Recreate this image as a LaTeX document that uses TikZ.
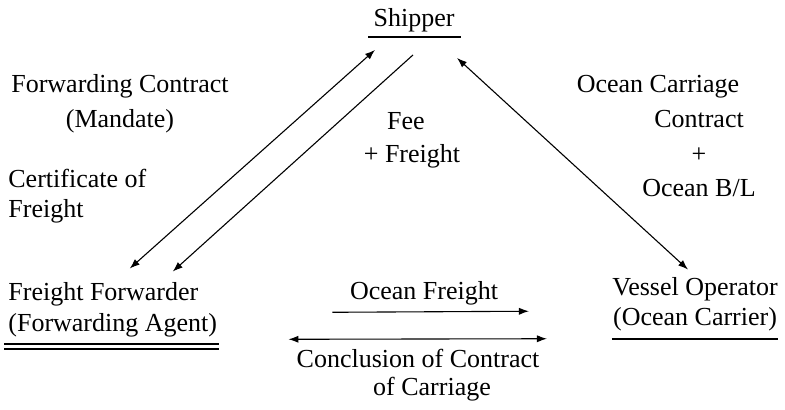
\documentclass[tikz,border=0pt]{standalone}
\usepackage{fontspec}
\setmainfont{Liberation Serif}
\usetikzlibrary{arrows.meta,positioning}

\begin{document}
\begin{tikzpicture}[
    x=0.5pt, y=-0.5pt,
    party/.style={inner sep=0pt, font=\fontsize{13pt}{15.5pt}\selectfont},
    note/.style={inner sep=0pt, font=\fontsize{13pt}{17.5pt}\selectfont, align=center},
    arrow/.style={-{Latex[length=5pt, width=3.6pt]}, line width=0.55pt},
    twoway/.style={{Latex[length=5pt, width=3.6pt]}-{Latex[length=5pt, width=3.6pt]}, line width=0.55pt},
    rule/.style={line width=0.6pt}
  ]
    \useasboundingbox (0,0) rectangle (785,410);

    % the three parties
    \node[party, anchor=base] (shipper) at (414,27) {Shipper};
    \node[party, align=left, anchor=base west] (forwarder) at (8,332)
      {Freight Forwarder\\(Forwarding Agent)};
    \node[party, align=center, anchor=base, font=\fontsize{13pt}{15pt}\selectfont]
      (carrier) at (695,326) {Vessel Operator\\(Ocean Carrier)};

    \draw[rule] ([shift={(-5,4)}]shipper.south west) -- ([shift={(6,4)}]shipper.south east);
    \draw[rule] ([shift={(-4,6)}]forwarder.south west) -- ([shift={(2,6)}]forwarder.south east);
    \draw[rule] ([shift={(-4,11)}]forwarder.south west) -- ([shift={(2,11)}]forwarder.south east);
    \draw[rule] ([shift={(0,7)}]carrier.south west) -- ([shift={(0,7)}]carrier.south east);

    % texts along the arrows
    \node[note, anchor=base] (mandate) at (120,128) {Forwarding Contract\\(Mandate)};
    \node[note, align=left, anchor=base west, font=\fontsize{13pt}{15pt}\selectfont]
      (certificate) at (8,218) {Certificate of\\Freight};
    \node[note, anchor=base, font=\fontsize{13pt}{16.5pt}\selectfont]
      (fee) at (406,163) {Fee\\\hspace*{6pt}+ Freight};
    \node[note, anchor=base] (carriage) at (658,93) {Ocean Carriage};
    \node[note, anchor=base, font=\fontsize{13pt}{17.25pt}\selectfont]
      (contract) at (699,197) {Contract\\+\\Ocean B/L};
    \node[note, anchor=base] (freight) at (424,300) {Ocean Freight};
    \node[note, anchor=base, font=\fontsize{13pt}{14pt}\selectfont]
      (conclusion) at (418,395) {Conclusion of Contract\\\hspace*{14pt}of Carriage};

    % arrows
    \draw[twoway] ([shift={(17,-14)}]forwarder.north) -- ([shift={(-39,17)}]shipper.south);
    \draw[arrow] ([shift={(-1,22)}]shipper.south) -- ([shift={(60,-11)}]forwarder.north);
    \draw[twoway] ([shift={(43,25)}]shipper.south) -- ([shift={(-7,-8)}]carrier.north);
    \draw[arrow] ([shift={(115,2)}]forwarder.east) -- ([shift={(-83,6.5)}]carrier.west);
    \draw[twoway] ([shift={(71,29)}]forwarder.east) -- ([shift={(-65,34)}]carrier.west);
  \end{tikzpicture}
\end{document}
